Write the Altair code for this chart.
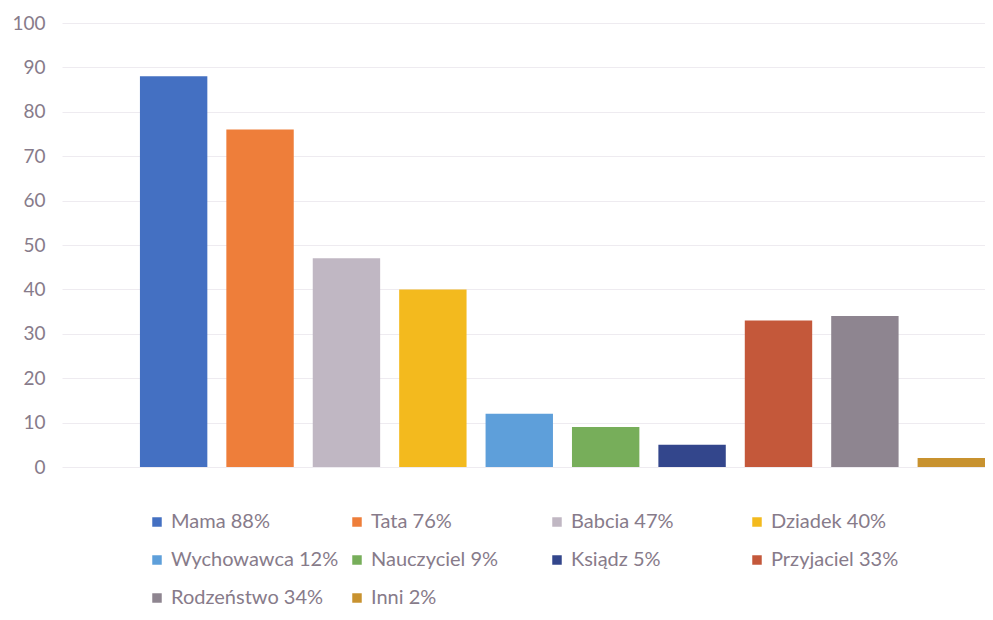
import altair as alt
import pandas as pd

names = ["Mama", "Tata", "Babcia", "Dziadek", "Wychowawca", "Nauczyciel",
         "Ksiądz", "Przyjaciel", "Rodzeństwo", "Inni"]
percents = [88, 76, 47, 40, 12, 9, 5, 33, 34, 2]
colors = ["#4470C2", "#EE7E3A", "#C0B7C3", "#F3BA1E", "#5E9FDA",
          "#77AE5A", "#33468C", "#C4583A", "#8E8590", "#C8922F"]
y_ticks = [0, 10, 20, 30, 40, 50, 60, 70, 80, 90, 100]

labels = [f"{n} {p}%" for n, p in zip(names, percents)]
df = pd.DataFrame({"label": labels, "value": percents})

text_color = "#877B8A"

chart = alt.Chart(df).mark_bar().encode(
    x=alt.X("label:N", sort=labels, axis=None,
            scale=alt.Scale(paddingInner=0.22, paddingOuter=0.451, align=1)),
    y=alt.Y("value:Q", scale=alt.Scale(domain=[0, 100]),
            axis=alt.Axis(values=y_ticks, title=None, domain=False, ticks=False,
                          labelFont="Lato", labelFontSize=19, labelColor=text_color,
                          labelPadding=17, gridColor="#EEEBF0", gridWidth=1)),
    color=alt.Color("label:N", sort=labels,
                    scale=alt.Scale(domain=labels, range=colors),
                    legend=alt.Legend(title=None, orient="none", legendX=85, legendY=489,
                                      direction="horizontal",
                                      columns=4, symbolType="square", symbolSize=90,
                                      symbolStrokeWidth=0, symbolOpacity=1,
                                      labelFont="Lato", labelFontSize=20,
                                      labelColor=text_color, columnPadding=8,
                                      rowPadding=18, gridAlign="all", labelLimit=400)),
).properties(
    width=923, height=444,
    autosize=alt.AutoSizeParams(type="none"),
    padding={"left": 54, "top": 15, "right": 0, "bottom": 141},
).configure_view(stroke=None)

chart.save("out.html", embed_options={"renderer": "svg", "actions": False})
